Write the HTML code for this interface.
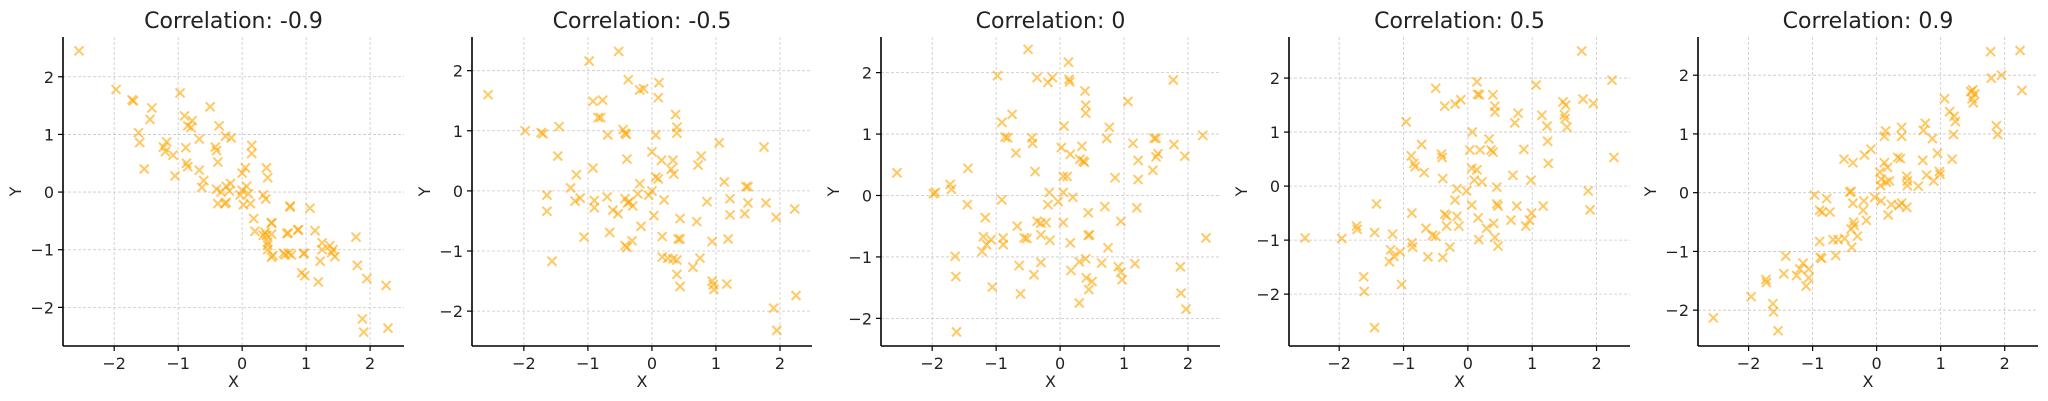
<!DOCTYPE html>
<html><head><meta charset="utf-8">
<style>
html,body{margin:0;padding:0;background:#fff;}
svg{display:block;font-family:"DejaVu Sans","Liberation Sans",sans-serif;}
</style></head>
<body>
<svg id="chart" width="2048" height="401" viewBox="0 0 2048 401" xmlns="http://www.w3.org/2000/svg"></svg>
<script>
const titles = ["Correlation: -0.9","Correlation: -0.5","Correlation: 0","Correlation: 0.5","Correlation: 0.9"];
const xTicks = [-2,-1,0,1,2];
const yTicks = [-2,-1,0,1,2];

const p1x = [-2.55,-1.97,-1.72,-1.70,-1.41,-1.44,-1.62,-1.60,-1.53,-1.23,-1.18,-1.20,-1.08,-1.05,-0.97,-0.90,-0.85,-0.78,-0.80,-0.88,-0.87,-0.85,-0.67,-0.67,-0.60,-0.63,-0.50,-0.36,-0.42,-0.40,-0.38,-0.40,-0.33,-0.25,-0.18,-0.20,-0.38,-0.27,-0.25,-0.26,-0.17,-0.03,0.00,0.07,0.10,0.02,0.13,0.05,0.00,0.15,0.15,0.18,0.20,0.33,0.37,0.38,0.40,0.38,0.46,0.46,0.40,0.48,0.67,0.77,0.70,0.88,0.75,0.96,1.06,1.14,0.93,0.98,0.46,0.75,0.72,0.87,1.25,1.25,1.22,0.97,1.37,1.42,1.45,1.40,1.19,1.78,1.80,1.95,2.25,1.88,1.90,2.28,0.65,0.73,0.46,0.40,0.40,0.33,0.36];
const p1y = [2.45,1.78,1.60,1.58,1.46,1.26,1.03,0.86,0.40,0.78,0.87,0.70,0.64,0.28,1.72,1.32,1.15,1.24,1.12,0.77,0.50,0.44,0.92,0.38,0.20,0.08,1.48,1.15,0.78,0.72,0.52,0.05,0.00,0.10,0.15,0.02,-0.20,-0.20,-0.18,0.97,0.94,-0.05,0.03,0.10,-0.03,-0.22,-0.20,0.42,0.33,0.81,0.67,-0.46,-0.68,-0.05,-0.12,0.42,0.25,-0.75,-0.53,-0.73,-0.92,-1.10,-1.09,-1.09,-0.72,-0.65,-0.24,-1.07,-0.28,-0.67,-1.40,-1.45,-0.54,-0.26,-0.71,-0.66,-0.88,-1.00,-1.20,-1.06,-0.93,-1.00,-1.12,-1.05,-1.56,-0.78,-1.27,-1.50,-1.62,-2.20,-2.43,-2.36,-1.06,-1.06,-1.13,-1.00,-0.87,-0.75,-0.70];

const p2x = [-2.56,-1.98,-1.73,-1.70,-1.45,-1.47,-1.64,-1.64,-1.56,-1.18,-1.27,-1.20,-1.12,-1.06,-0.98,-0.92,-0.77,-0.84,-0.80,-0.92,-0.90,-0.90,-0.69,-0.70,-0.61,-0.53,-0.66,-0.52,-0.42,-0.45,-0.40,-0.37,-0.42,-0.39,-0.19,-0.13,0.11,0.10,0.37,0.39,0.39,0.06,0.00,0.15,0.33,0.30,0.34,0.06,0.10,0.77,0.72,1.05,1.75,-0.19,-0.22,-0.05,0.00,-0.42,-0.35,-0.30,-0.38,0.19,0.03,-0.17,-0.31,-0.39,0.44,0.70,0.86,1.13,1.22,1.22,1.47,1.50,1.50,1.45,1.78,1.94,2.23,0.41,0.44,0.16,0.94,1.19,0.16,0.25,0.33,0.39,0.75,0.64,0.39,0.44,0.94,0.97,0.96,1.17,2.25,1.90,1.95];
const p2y = [1.60,1.00,0.97,0.95,1.07,0.58,-0.07,-0.34,-1.17,0.27,0.05,-0.17,-0.12,-0.77,2.16,1.49,1.51,1.22,1.22,0.38,-0.16,-0.28,0.93,-0.10,-0.32,-0.38,-0.69,2.32,-0.91,1.02,0.94,1.85,0.96,0.53,1.68,1.70,1.80,1.55,1.27,1.06,0.96,0.93,0.65,0.51,0.51,0.36,0.28,0.23,0.20,0.58,0.43,0.80,0.73,0.12,-0.05,-0.07,0.00,-0.13,-0.18,-0.25,-0.20,-0.15,-0.41,-0.59,-0.83,-0.94,-0.46,-0.51,-0.18,0.15,-0.13,-0.40,0.07,0.07,-0.20,-0.38,-0.20,-0.44,-0.30,-0.80,-0.80,-0.76,-0.84,-0.80,-1.10,-1.12,-1.13,-1.15,-1.12,-1.27,-1.39,-1.59,-1.50,-1.64,-1.56,-1.55,-1.74,-1.95,-2.32];

const p3x = [-2.55,-1.98,-1.95,-1.72,-1.70,-1.44,-1.45,-1.17,-1.64,-1.63,-1.06,-1.20,-1.15,-1.22,-1.08,-0.89,-0.89,-0.91,-0.98,-0.91,-0.75,-0.86,-0.82,-0.69,-0.67,-0.56,-0.52,-0.64,-0.50,-0.36,-0.19,-0.12,-0.44,-0.43,-0.39,-0.36,-0.30,-0.22,-0.30,-0.16,-0.41,-0.30,-0.19,-0.17,-0.03,0.05,0.06,0.02,0.05,0.11,0.13,0.14,0.15,0.16,0.20,0.05,0.16,0.17,0.39,0.40,0.40,0.34,0.31,0.38,0.36,0.44,0.44,0.46,0.30,0.40,0.41,0.45,0.77,0.73,0.86,0.70,0.75,0.65,0.91,0.95,0.97,0.95,1.06,1.14,1.22,1.22,1.20,1.17,1.47,1.50,1.53,1.50,1.45,1.78,1.77,1.95,2.23,2.28,1.88,1.89,-1.62,0.30,1.97,-0.62,0.50];
const p3y = [0.37,0.03,0.05,0.18,0.10,0.44,-0.15,-0.36,-0.99,-1.32,-1.49,-0.67,-0.80,-0.91,-0.72,-0.69,-0.80,-0.07,1.95,1.19,1.32,0.95,0.94,0.69,-0.50,-0.69,-0.70,-1.14,2.38,1.92,1.84,1.92,0.94,0.85,0.39,-0.42,-0.45,-0.44,-0.64,-0.73,-1.29,-1.09,-0.15,0.05,-0.10,0.05,1.13,0.78,0.31,0.31,2.17,1.89,1.85,0.67,-0.03,-0.44,-0.77,-1.22,1.70,1.47,1.34,0.80,0.59,0.54,0.56,-0.28,-0.65,-0.64,-1.08,-1.03,-1.34,-1.53,1.11,0.93,0.29,-0.18,-0.85,-1.10,-1.16,-1.25,-1.37,-0.42,1.53,0.85,0.57,0.26,-0.20,-1.11,0.93,0.93,0.68,0.63,0.41,0.83,1.88,0.64,0.98,-0.69,-1.16,-1.59,-2.22,-1.75,-1.85,-1.60,-1.40];

const p4x = [-2.53,-1.96,-1.73,-1.72,-1.42,-1.45,-1.62,-1.61,-1.17,-1.20,-1.15,-1.22,-1.05,-1.03,-0.96,-0.88,-0.84,-0.82,-0.72,-0.68,-0.87,-0.87,-0.86,-0.65,-0.62,-0.55,-0.50,-0.50,-0.41,-0.40,-0.39,-0.36,-0.20,-0.11,-0.39,-0.36,-0.33,-0.17,-0.33,-0.28,-0.20,-0.17,-0.14,-0.02,0.06,0.07,0.03,0.19,0.06,0.14,0.10,0.22,0.14,0.15,0.18,0.16,0.17,0.29,0.33,0.36,0.39,0.39,0.42,0.42,0.45,0.45,0.47,0.40,0.42,0.47,0.70,0.67,0.73,0.78,0.76,0.87,0.90,0.96,0.98,0.99,1.06,1.15,1.23,1.24,1.25,1.17,1.48,1.52,1.50,1.51,1.54,1.77,2.24,1.79,1.95,2.27,1.87,1.90,-1.45];
const p4y = [-0.96,-0.97,-0.74,-0.80,-0.33,-0.86,-1.68,-1.95,-0.89,-1.18,-1.30,-1.40,-1.22,-1.82,1.19,0.56,0.42,0.36,0.77,0.25,-0.50,-1.05,-1.13,-0.78,-1.31,-0.91,-0.93,1.81,0.59,0.53,0.14,1.48,1.52,1.60,-1.32,-0.52,-0.74,-0.56,-0.55,-1.13,-0.26,-0.05,-0.74,-0.09,-0.35,1.00,0.67,0.67,0.33,0.30,0.11,0.08,1.93,1.70,1.69,-0.59,-0.99,-0.78,0.87,0.67,0.63,1.69,1.48,1.37,-0.02,-0.33,-0.37,-0.69,-0.95,-1.11,0.20,-0.63,1.17,1.35,-0.37,0.68,-0.74,-0.63,0.11,-0.50,1.87,1.31,1.11,0.83,0.42,-0.37,1.56,1.50,1.32,1.25,1.09,2.50,1.96,1.61,1.53,0.53,-0.09,-0.44,-2.62];

const p5x = [-2.55,-1.96,-1.73,-1.72,-1.62,-1.61,-1.54,-1.42,-1.45,-1.25,-1.20,-1.15,-1.10,-1.06,-1.06,-0.97,-0.89,-0.85,-0.73,-0.78,-0.89,-0.88,-0.86,-0.64,-0.68,-0.60,-0.50,-0.51,-0.37,-0.42,-0.40,-0.37,-0.36,-0.35,-0.40,-0.30,-0.39,-0.19,-0.09,-0.20,-0.21,-0.16,-0.03,0.05,0.07,0.06,0.07,0.12,0.12,0.14,0.17,0.15,0.20,0.18,0.23,0.33,0.37,0.35,0.39,0.39,0.39,0.47,0.48,0.47,0.48,0.65,0.72,0.73,0.76,0.78,0.87,0.89,0.95,0.98,0.99,1.06,1.14,1.21,1.23,1.18,1.20,1.47,1.49,1.51,1.53,1.50,1.78,1.79,1.95,1.87,1.89,2.24,2.27];
const p5y = [-2.13,-1.77,-1.48,-1.53,-1.89,-2.03,-2.35,-1.08,-1.38,-1.41,-1.30,-1.20,-1.59,-1.30,-1.45,-0.04,-0.30,-0.33,-0.33,-0.10,-0.83,-1.10,-1.12,-1.07,-0.80,-0.80,-0.78,0.57,0.51,0.01,0.02,-0.18,-0.50,-0.56,-0.62,-0.74,-0.93,0.64,0.74,-0.14,-0.30,-0.47,-0.08,0.35,0.23,0.12,-0.14,0.51,0.96,1.05,0.43,0.18,0.20,-0.38,-0.20,0.60,0.58,-0.22,1.11,0.96,-0.18,0.28,0.12,-0.25,0.20,0.11,0.55,1.06,1.18,0.30,0.92,0.20,0.67,0.36,0.31,1.60,1.38,1.30,1.21,0.57,0.99,1.72,1.60,1.53,1.68,1.75,2.40,1.95,2.00,1.14,0.99,2.42,1.74];

const panelXs = [p1x,p2x,p3x,p4x,p5x];
const panelYs = [p1y,p2y,p3y,p4y,p5y];
const boxes = [[63,404],[472,812],[881,1220],[1289,1630],[1698,2038]];
const xLims = [[-2.8,2.53],[-2.81,2.5],[-2.8,2.5],[-2.78,2.52],[-2.79,2.52]];
const yLims = [[-2.67,2.69],[-2.58,2.56],[-2.45,2.58],[-2.96,2.76],[-2.61,2.65]];
const TOP = 37, BOT = 346;

const NS = "http://www.w3.org/2000/svg";
const svg = document.getElementById('chart');
function mk(tag, attrs, parent){
  const e = document.createElementNS(NS, tag);
  for (const k in attrs) e.setAttribute(k, attrs[k]);
  (parent||svg).appendChild(e);
  return e;
}

for (let p = 0; p < 5; p++) {
  const [L, R] = boxes[p];
  const [x0, x1] = xLims[p];
  const [y0, y1] = yLims[p];
  const sx = v => L + (v - x0) / (x1 - x0) * (R - L);
  const sy = v => BOT - (v - y0) / (y1 - y0) * (BOT - TOP);
  const g = mk('g', {});
  
  

  xTicks.forEach(t => {
    const l = mk('line', {x1: sx(t), x2: sx(t), y1: TOP, y2: BOT, stroke: '#c8c8c8', 'stroke-width': 0.8, 'stroke-dasharray': '3,2'}, g);
    
    
  });
  yTicks.forEach(t => {
    const l = mk('line', {x1: L, x2: R, y1: sy(t), y2: sy(t), stroke: '#c8c8c8', 'stroke-width': 0.8, 'stroke-dasharray': '3,2'}, g);
    
    
  });

  const xs = panelXs[p], ys = panelYs[p];
  const n = Math.min(xs.length, ys.length);
  for (let i = 0; i < n; i++) {
    const cx = sx(xs[i]), cy = sy(ys[i]), h = 4.5;
    const m = mk('path', {d: `M${cx-h},${cy-h}L${cx+h},${cy+h}M${cx-h},${cy+h}L${cx+h},${cy-h}`, stroke: '#FFA500', 'stroke-opacity': 0.6, 'stroke-width': 2, fill: 'none'}, g);
    
    
  }

  const sl = mk('line', {x1: L, x2: L, y1: TOP, y2: BOT, stroke: '#000', 'stroke-width': 1.6}, g);
  
  
  const sb = mk('line', {x1: L, x2: R, y1: BOT, y2: BOT, stroke: '#000', 'stroke-width': 1.6}, g);
  
  

  xTicks.forEach(t => {
    const tk = mk('line', {x1: sx(t), x2: sx(t), y1: BOT, y2: BOT + 5, stroke: '#000', 'stroke-width': 1.2}, g);
    
    
    const tx = mk('text', {x: sx(t), y: BOT + 23, 'text-anchor': 'middle', 'font-size': 16, fill: '#222'}, g);
    tx.textContent = t < 0 ? '\u2212' + Math.abs(t) : String(t);
    
    
  });
  yTicks.forEach(t => {
    const tk = mk('line', {x1: L - 5, x2: L, y1: sy(t), y2: sy(t), stroke: '#000', 'stroke-width': 1.2}, g);
    
    
    const tx = mk('text', {x: L - 9, y: sy(t) + 6, 'text-anchor': 'end', 'font-size': 16, fill: '#222'}, g);
    tx.textContent = t < 0 ? '\u2212' + Math.abs(t) : String(t);
    
    
  });

  const xl = mk('text', {x: (L + R) / 2, y: 387, 'text-anchor': 'middle', 'font-size': 16, fill: '#222'}, g);
  xl.textContent = 'X';
  
  
  const yl = mk('text', {x: 0, y: 0, 'text-anchor': 'middle', 'font-size': 16, fill: '#222', transform: `translate(${L - 42},${(TOP + BOT) / 2}) rotate(-90)`}, g);
  yl.textContent = 'Y';
  
  

  const tt = mk('text', {x: (L + R) / 2, y: 28, 'text-anchor': 'middle', 'font-size': 22, fill: '#222'}, g);
  tt.textContent = titles[p];
  
  
}
</script>
</body></html>
